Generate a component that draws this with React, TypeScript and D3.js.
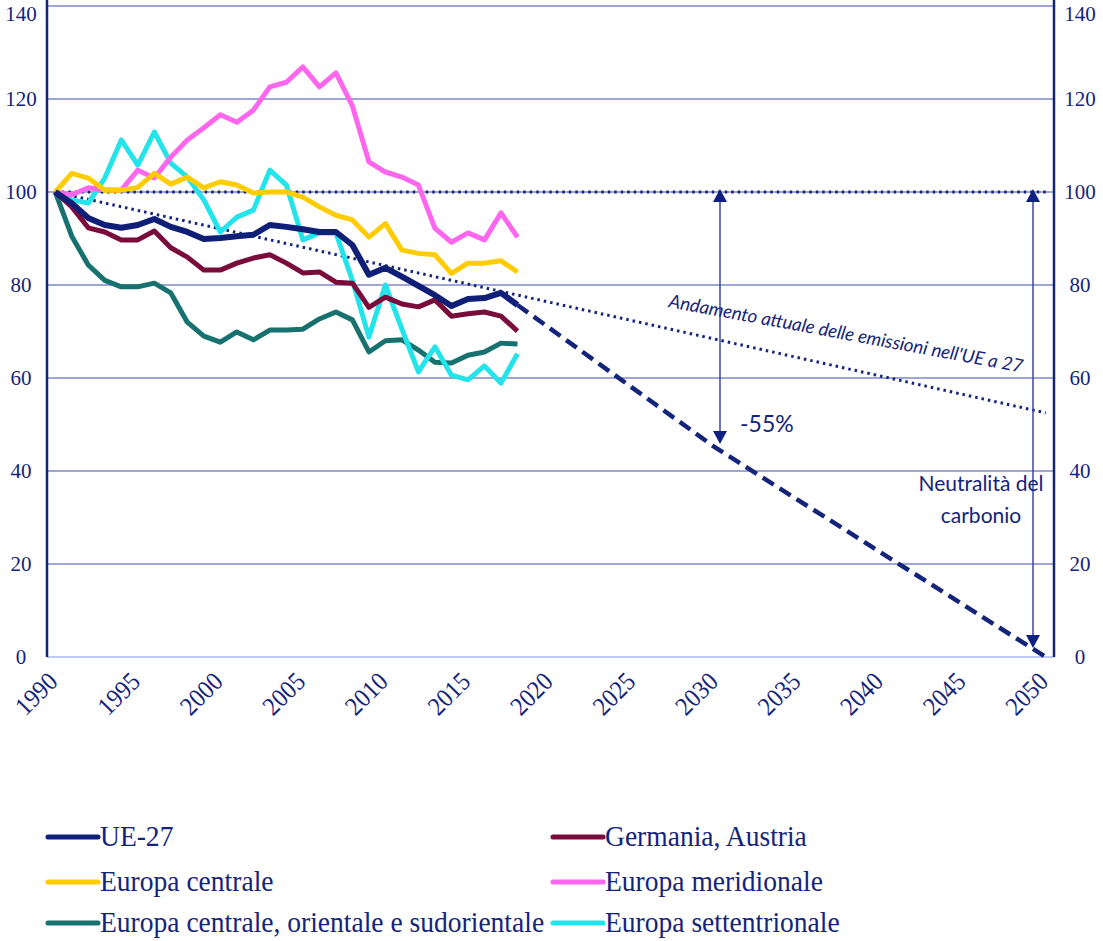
import React from "react";
import * as d3 from "d3";

const years = [1990, 1991, 1992, 1993, 1994, 1995, 1996, 1997, 1998, 1999, 2000, 2001, 2002, 2003, 2004, 2005, 2006, 2007, 2008, 2009, 2010, 2011, 2012, 2013, 2014, 2015, 2016, 2017, 2018];

const ue27 = [100, 97.6, 94.4, 92.9, 92.3, 92.9, 94.2, 92.5, 91.4, 89.9, 90.1, 90.5, 90.8, 92.9, 92.5, 92.0, 91.4, 91.4, 88.6, 82.2, 83.7, 81.8, 79.8, 77.8, 75.5, 77.0, 77.2, 78.3, 75.7];
const germaniaAustria = [100, 96.8, 92.3, 91.4, 89.7, 89.7, 91.6, 88.0, 86.0, 83.2, 83.2, 84.7, 85.8, 86.5, 84.7, 82.6, 82.8, 80.6, 80.4, 75.2, 77.4, 75.9, 75.3, 76.8, 73.3, 73.8, 74.2, 73.3, 70.1];
const europaCentrale = [100, 104, 103, 100.4, 100.4, 101, 104, 101.7, 103.2, 100.9, 102.2, 101.5, 99.8, 100, 100, 98.9, 96.8, 95, 94, 90.3, 93.2, 87.5, 86.8, 86.5, 82.5, 84.7, 84.7, 85.2, 82.8];
const europaMeridionale = [100, 99.4, 100.9, 100.5, 100.4, 104.7, 103, 107.5, 111.2, 113.8, 116.6, 115, 117.6, 122.6, 123.6, 126.9, 122.6, 125.6, 118.5, 106.5, 104.3, 103.2, 101.5, 92.2, 89.2, 91.2, 89.7, 95.5, 90.3];
const europaCOS = [100, 90.5, 84.3, 81, 79.6, 79.6, 80.4, 78.3, 72, 69, 67.7, 69.9, 68.2, 70.3, 70.3, 70.5, 72.7, 74.2, 72.5, 65.6, 68, 68.2, 66, 63.4, 63.2, 64.9, 65.6, 67.5, 67.3];
const europaSettentrionale = [100, 98.3, 97.6, 103, 111.2, 105.8, 112.9, 106.2, 103.2, 98.3, 91.4, 94.6, 96.1, 104.7, 101.5, 89.7, 91.2, 91.2, 81, 68.8, 80, 70.5, 61.3, 66.7, 60.6, 59.6, 62.6, 58.9, 65.2];

const projectionYears = [2018, 2030, 2050];
const projectionValues = [75.7, 45, 0];
const trendYears = [1990, 2050];
const trendValues = [100, 52.5];
const baseYears = [1990, 2050];
const baseValues = [100, 100];

const yTicks = [0, 20, 40, 60, 80, 100, 120, 140];
const xTickLabels = [1990, 1995, 2000, 2005, 2010, 2015, 2020, 2025, 2030, 2035, 2040, 2045, 2050];

const seriesNames = ["UE-27", "Germania, Austria", "Europa centrale", "Europa meridionale", "Europa centrale, orientale e sudorientale", "Europa settentrionale"];
const seriesColors = ["#0f1f78", "#7a0c3c", "#ffcc00", "#ff66ee", "#17716f", "#22e4ea"];
const seriesValues = [ue27, germaniaAustria, europaCentrale, europaMeridionale, europaCOS, europaSettentrionale];
const drawOrder = [4, 5, 3, 2, 1, 0];

const navy = "#14247a";
const gridColor = "#7f89c6";
const arrowColor = "#3a4898";

export default function App() {
  const x = d3.scaleLinear().domain([1989.5, 2050.5]).range([47, 1054]);
  const y = d3.scaleLinear().domain([0, 140]).range([657, 6]);
  const line = d3.line<[number, number]>().x((d) => x(d[0])).y((d) => y(d[1]));
  const pairs = (xs: number[], vs: number[]) => xs.map((v, i) => [v, vs[i]] as [number, number]);

  const tri = (cx: number, tipY: number, dir: number) => {
    const w = 7, h = 13;
    return `M${cx},${tipY} L${cx - w},${tipY + dir * h} L${cx + w},${tipY + dir * h} Z`;
  };

  const arrow1X = 720;
  const arrow2X = 1033;

  const legendRows = [836, 881, 922];
  const legendCols = [48, 553];

  return (
    <svg width={1103} height={941} style={{ position: "absolute", left: 0, top: 0, background: "#fff" }}>
      {/* gridlines */}
      {yTicks.filter((t) => t > 0).map((t) => (
        <line key={t} x1={47} x2={1054} y1={y(t)} y2={y(t)} stroke={gridColor} strokeWidth={1.5} />
      ))}
      <line x1={47} x2={1054} y1={y(0)} y2={y(0)} stroke="#a9b8ec" strokeWidth={1.5} />
      {/* axes */}
      <line x1={47} x2={47} y1={0} y2={y(0)} stroke={navy} strokeWidth={2.5} />
      <line x1={1054} x2={1054} y1={0} y2={y(0)} stroke={navy} strokeWidth={2.5} />
      {/* y labels */}
      {yTicks.map((t) => {
        const ty = t === 140 ? y(t) + 8 : y(t);
        return (
          <g key={t} fontFamily="Liberation Serif" fontSize={21} fill={navy}>
            <text x={21} y={ty} dy="0.35em" textAnchor="middle">{t}</text>
            <text x={1080} y={ty} dy="0.35em" textAnchor="middle">{t}</text>
          </g>
        );
      })}
      {/* x labels */}
      {xTickLabels.map((t) => (
        <text key={t} transform={`translate(${x(t) + 4},${683}) rotate(-45) scale(0.92,1)`} textAnchor="end" fontFamily="Liberation Serif" fontSize={26} fill={navy}>{t}</text>
      ))}
      {/* reference dotted lines */}
      <path d={line(pairs(baseYears, baseValues)) || ""} fill="none" stroke={navy} strokeWidth={3} strokeDasharray="2.5 4" />
      <path d={line(pairs(trendYears, trendValues)) || ""} fill="none" stroke={navy} strokeWidth={3} strokeDasharray="2.5 4" />
      {/* projection */}
      <path d={line(pairs(projectionYears, projectionValues)) || ""} fill="none" stroke={navy} strokeWidth={4.5} strokeDasharray="13 7" />
      {/* series */}
      {drawOrder.map((i) => (
        <path key={i} d={line(pairs(years, seriesValues[i])) || ""} fill="none" stroke={seriesColors[i]} strokeWidth={i === 0 ? 6 : 5} strokeLinejoin="round" />
      ))}
      {/* arrows */}
      <line x1={arrow1X} x2={arrow1X} y1={200} y2={436} stroke={arrowColor} strokeWidth={1.5} />
      <path d={tri(arrow1X, 189, 1)} fill="#0f2080" />
      <path d={tri(arrow1X, 444, -1)} fill="#0f2080" />
      <line x1={arrow2X} x2={arrow2X} y1={200} y2={640} stroke={arrowColor} strokeWidth={1.5} />
      <path d={tri(arrow2X, 189, 1)} fill="#0f2080" />
      <path d={tri(arrow2X, 648, -1)} fill="#0f2080" />
      {/* annotations */}
      <text transform="translate(668,307) rotate(10.5)" fontFamily="Lato" fontStyle="italic" fontSize={18.5} fill={navy}>Andamento attuale delle emissioni nell'UE a 27</text>
      <text x={740} y={432} fontFamily="Lato" fontSize={23} fill={navy}>-55%</text>
      <text x={981} y={491} textAnchor="middle" fontFamily="Lato" fontSize={21} fill={navy}>Neutralità del</text>
      <text x={981} y={523} textAnchor="middle" fontFamily="Lato" fontSize={21} fill={navy}>carbonio</text>
      {/* legend */}
      {seriesNames.map((name, i) => {
        const row = Math.floor(i / 2);
        const col = i % 2;
        const lx = legendCols[col];
        const ly = legendRows[row];
        return (
          <g key={name}>
            <line x1={lx} x2={lx + 50} y1={ly + 1} y2={ly + 1} stroke={seriesColors[i]} strokeWidth={5} strokeLinecap="round" />
            <text transform={`translate(${lx + 52},${ly}) scale(0.95,1)`} dy="0.35em" fontFamily="Liberation Serif" fontSize={29} fill={navy}>{name}</text>
          </g>
        );
      })}
    </svg>
  );
}
